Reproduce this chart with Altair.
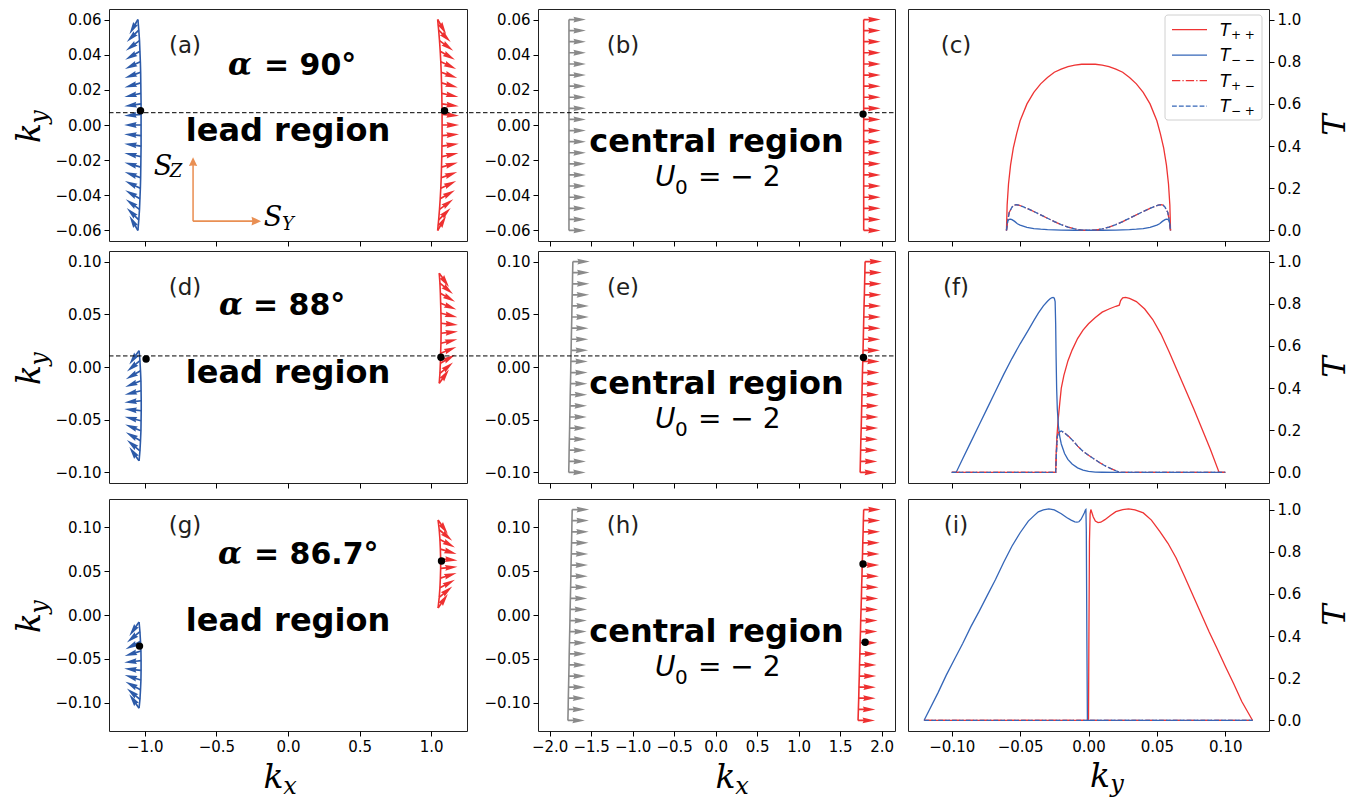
import altair as alt
import pandas as pd

# ================= DATA =================
# ---- (a) lead region, alpha = 90 deg ----
a_ky = [0.060, 0.054, 0.048, 0.042, 0.036, 0.030, 0.024, 0.018, 0.012, 0.006, 0.000,
        -0.006, -0.012, -0.018, -0.024, -0.030, -0.036, -0.042, -0.048, -0.054, -0.060]
a_blue_kx = [-1.048, -1.042, -1.037, -1.034, -1.031, -1.029, -1.028, -1.027, -1.026, -1.026, -1.026,
             -1.026, -1.026, -1.027, -1.028, -1.029, -1.031, -1.034, -1.037, -1.042, -1.048]
a_blue_ang = [120, 135, 144, 150, 155, 160, 164, 168, 172, 176, 180,
              184, 188, 192, 196, 200, 205, 210, 216, 225, 240]
a_red_kx = [1.045, 1.052, 1.058, 1.063, 1.067, 1.070, 1.072, 1.074, 1.075, 1.076, 1.076,
            1.076, 1.075, 1.074, 1.072, 1.070, 1.067, 1.063, 1.058, 1.052, 1.045]
a_red_ang = [60, 45, 36, 30, 25, 20, 16, 12, 8, 4, 0,
             356, 352, 348, 344, 340, 335, 330, 324, 315, 300]
a_dot_kx = [-1.030, 1.093]
a_dot_ky = [0.0081, 0.0081]
row1_dash_ky = [0.007]
s_axis_kx = [-0.663]
s_axis_ky = [-0.0547]

# ---- (b) central region, row 1 ----
b_ky = [0.0600, 0.0537, 0.0474, 0.0411, 0.0347, 0.0284, 0.0221, 0.0158, 0.0095, 0.0032,
        -0.0032, -0.0095, -0.0158, -0.0221, -0.0284, -0.0347, -0.0411, -0.0474, -0.0537, -0.0600]
b_gray_kx = [-1.767] * 20
b_red_kx = [1.783] * 20
b_dot_kx = [1.775]
b_dot_ky = [0.0062]

# ---- (d) lead region, alpha = 88 deg ----
d_blue_ky = [0.0155, 0.0060, -0.0035, -0.0130, -0.0225, -0.0320, -0.0415, -0.0510, -0.0605, -0.0700, -0.0795, -0.0890]
d_blue_kx = [-1.040, -1.034, -1.030, -1.027, -1.026, -1.025, -1.025, -1.026, -1.027, -1.030, -1.034, -1.040]
d_blue_ang = [125, 140, 150, 158, 166, 174, 186, 194, 202, 210, 220, 235]
d_red_ky = [0.0890, 0.0795, 0.0700, 0.0605, 0.0510, 0.0415, 0.0320, 0.0225, 0.0130, 0.0035, -0.0060, -0.0155]
d_red_kx = [1.056, 1.061, 1.064, 1.066, 1.068, 1.069, 1.069, 1.068, 1.066, 1.064, 1.061, 1.056]
d_red_ang = [55, 40, 30, 22, 14, 6, 354, 346, 338, 330, 320, 305]
d_dot_kx = [-0.991, 1.068]
d_dot_ky = [0.0076, 0.0092]
row2_dash_ky = [0.0105]

# ---- (e) central region, row 2 ----
e_ky = [0.1000, 0.0895, 0.0789, 0.0684, 0.0579, 0.0474, 0.0368, 0.0263, 0.0158, 0.0053,
        -0.0053, -0.0158, -0.0263, -0.0368, -0.0474, -0.0579, -0.0684, -0.0789, -0.0895, -0.1000]
e_gray_kx = [-1.720, -1.723, -1.725, -1.728, -1.731, -1.733, -1.736, -1.739, -1.741, -1.744,
             -1.746, -1.749, -1.752, -1.754, -1.757, -1.759, -1.762, -1.765, -1.767, -1.770]
e_red_kx = [1.800, 1.797, 1.794, 1.791, 1.787, 1.784, 1.781, 1.778, 1.775, 1.772,
            1.768, 1.765, 1.762, 1.759, 1.756, 1.753, 1.749, 1.746, 1.743, 1.740]
e_dot_kx = [1.780]
e_dot_ky = [0.0090]

# ---- (g) lead region, alpha = 86.7 deg ----
g_blue_ky = [-0.008, -0.019, -0.030, -0.041, -0.052, -0.063, -0.074, -0.085, -0.096, -0.106]
g_blue_kx = [-1.040, -1.034, -1.030, -1.027, -1.026, -1.026, -1.027, -1.030, -1.034, -1.040]
g_blue_ang = [125, 140, 152, 163, 174, 186, 197, 208, 220, 235]
g_red_ky = [0.108, 0.097, 0.086, 0.075, 0.064, 0.053, 0.042, 0.031, 0.020, 0.008]
g_red_kx = [1.048, 1.056, 1.061, 1.064, 1.066, 1.066, 1.064, 1.061, 1.056, 1.048]
g_red_ang = [55, 40, 28, 17, 6, 354, 343, 332, 320, 305]
g_dot_kx = [-1.037, 1.072]
g_dot_ky = [-0.0354, 0.0614]

# ---- (h) central region, row 3 ----
h_ky = [0.1200, 0.1074, 0.0947, 0.0821, 0.0695, 0.0568, 0.0442, 0.0316, 0.0189, 0.0063,
        -0.0063, -0.0189, -0.0316, -0.0442, -0.0568, -0.0695, -0.0821, -0.0947, -0.1074, -0.1200]
h_gray_kx = [-1.728, -1.731, -1.733, -1.736, -1.739, -1.742, -1.744, -1.747, -1.750, -1.753,
             -1.755, -1.758, -1.761, -1.764, -1.766, -1.769, -1.772, -1.775, -1.777, -1.780]
h_red_kx = [1.783, 1.779, 1.776, 1.772, 1.769, 1.765, 1.762, 1.758, 1.755, 1.751,
            1.747, 1.744, 1.740, 1.737, 1.733, 1.730, 1.726, 1.723, 1.719, 1.715]
h_dot_kx = [1.775, 1.800]
h_dot_ky = [0.058, -0.031]

# ---- (c) transmission, alpha = 90 ----
c_pp_ky = [-0.0600, -0.0595, -0.0585, -0.0570, -0.0550, -0.0525, -0.0500, -0.0450, -0.0400, -0.0350, -0.0300,
           -0.0250, -0.0200, -0.0150, -0.0100, -0.0050, 0.0000, 0.0050, 0.0100, 0.0150, 0.0200, 0.0250,
           0.0300, 0.0350, 0.0400, 0.0450, 0.0500, 0.0525, 0.0550, 0.0570, 0.0585, 0.0595, 0.0600]
c_pp_T = [0.0, 0.12, 0.22, 0.31, 0.39, 0.46, 0.52, 0.60, 0.655, 0.695, 0.725,
          0.75, 0.765, 0.777, 0.784, 0.788, 0.789, 0.788, 0.784, 0.777, 0.765, 0.75,
          0.725, 0.695, 0.655, 0.60, 0.52, 0.46, 0.39, 0.31, 0.22, 0.12, 0.0]
c_mm_ky = [-0.0600, -0.0595, -0.0590, -0.0580, -0.0570, -0.0560, -0.0540, -0.0520, -0.0500, -0.0450, -0.0400,
           -0.0350, -0.0300, -0.0200, -0.0100, 0.0000, 0.0100, 0.0200, 0.0300, 0.0350, 0.0400, 0.0450,
           0.0500, 0.0520, 0.0540, 0.0560, 0.0570, 0.0580, 0.0590, 0.0595, 0.0600]
c_mm_T = [0.0, 0.03, 0.045, 0.053, 0.054, 0.051, 0.043, 0.032, 0.025, 0.015, 0.009,
          0.006, 0.004, 0.002, 0.001, 0.001, 0.001, 0.002, 0.004, 0.006, 0.009, 0.015,
          0.025, 0.032, 0.043, 0.051, 0.054, 0.053, 0.045, 0.03, 0.0]
c_x_ky = [-0.0600, -0.0590, -0.0580, -0.0560, -0.0545, -0.0530, -0.0510, -0.0480, -0.0450, -0.0400, -0.0350,
          -0.0300, -0.0250, -0.0200, -0.0150, -0.0100, -0.0050, 0.0000, 0.0050, 0.0100, 0.0150, 0.0200,
          0.0250, 0.0300, 0.0350, 0.0400, 0.0450, 0.0480, 0.0510, 0.0530, 0.0545, 0.0560, 0.0580, 0.0590, 0.0600]
c_pm_T = [0.0, 0.05, 0.085, 0.11, 0.12, 0.122, 0.12, 0.113, 0.105, 0.09, 0.074,
          0.058, 0.042, 0.028, 0.016, 0.007, 0.002, 0.0, 0.002, 0.007, 0.016, 0.028,
          0.042, 0.058, 0.074, 0.09, 0.105, 0.113, 0.12, 0.122, 0.12, 0.11, 0.085, 0.05, 0.0]
c_mp_T = [0.0, 0.05, 0.085, 0.11, 0.12, 0.122, 0.12, 0.113, 0.105, 0.09, 0.074,
          0.058, 0.042, 0.028, 0.016, 0.007, 0.002, 0.0, 0.002, 0.007, 0.016, 0.028,
          0.042, 0.058, 0.074, 0.09, 0.105, 0.113, 0.12, 0.122, 0.12, 0.11, 0.085, 0.05, 0.0]

# ---- (f) transmission, alpha = 88 ----
f_pp_ky = [-0.1000, -0.0240, -0.0236, -0.0230, -0.0222, -0.0210, -0.0199, -0.0180, -0.0150, -0.0120, -0.0080,
           -0.0040, 0.0000, 0.0050, 0.0100, 0.0150, 0.0200, 0.0225, 0.0235, 0.0250, 0.0271, 0.0300,
           0.0350, 0.0411, 0.0470, 0.0531, 0.0591, 0.0651, 0.0711, 0.0771, 0.0831, 0.0891, 0.0955, 0.1000]
f_pp_T = [0.0, 0.0, 0.10, 0.18, 0.25, 0.33, 0.40, 0.46, 0.53, 0.58, 0.635,
          0.675, 0.705, 0.735, 0.76, 0.775, 0.788, 0.793, 0.815, 0.828, 0.83, 0.825,
          0.81, 0.775, 0.725, 0.655, 0.57, 0.48, 0.39, 0.30, 0.205, 0.11, 0.0, 0.0]
f_mm_ky = [-0.1000, -0.0968, -0.0920, -0.0860, -0.0800, -0.0740, -0.0680, -0.0620, -0.0560, -0.0500, -0.0440,
           -0.0400, -0.0367, -0.0330, -0.0300, -0.0283, -0.0270, -0.0259, -0.0250, -0.0244, -0.0240, -0.0237,
           -0.0233, -0.0228, -0.0220, -0.0210, -0.0199, -0.0175, -0.0151, -0.0120, -0.0080, -0.0040, 0.0000,
           0.0050, 0.0100, 0.0200, 0.1000]
f_mm_T = [0.0, 0.0, 0.065, 0.145, 0.225, 0.305, 0.385, 0.465, 0.54, 0.61, 0.675,
          0.72, 0.755, 0.79, 0.812, 0.822, 0.828, 0.83, 0.826, 0.81, 0.70, 0.55,
          0.40, 0.30, 0.22, 0.17, 0.135, 0.09, 0.062, 0.04, 0.022, 0.011, 0.005,
          0.002, 0.001, 0.0, 0.0]
f_x_ky = [-0.1000, -0.0240, -0.0234, -0.0228, -0.0220, -0.0199, -0.0170, -0.0140, -0.0110, -0.0079,
          -0.0040, 0.0000, 0.0041, 0.0080, 0.0120, 0.0161, 0.0200, 0.0233, 0.1000]
f_pm_T = [0.0, 0.0, 0.10, 0.17, 0.19, 0.197, 0.185, 0.168, 0.148, 0.125,
          0.10, 0.082, 0.064, 0.047, 0.032, 0.019, 0.008, 0.0, 0.0]
f_mp_T = [0.0, 0.0, 0.10, 0.17, 0.19, 0.197, 0.185, 0.168, 0.148, 0.125,
          0.10, 0.082, 0.064, 0.047, 0.032, 0.019, 0.008, 0.0, 0.0]

# ---- (i) transmission, alpha = 86.7 ----
i_mm_ky = [-0.1203, -0.1100, -0.1040, -0.0980, -0.0920, -0.0860, -0.0800, -0.0740, -0.0680, -0.0620, -0.0560,
           -0.0500, -0.0440, -0.0400, -0.0367, -0.0330, -0.0290, -0.0250, -0.0199, -0.0160, -0.0127, -0.0100,
           -0.0084, -0.0070, -0.0055, -0.0040, -0.0031, -0.0022, -0.0019, -0.0016, -0.0012, -0.0008, 0.1200]
i_mm_T = [0.0, 0.132, 0.215, 0.29, 0.365, 0.445, 0.517, 0.593, 0.668, 0.75, 0.826,
          0.89, 0.945, 0.97, 0.989, 0.998, 1.003, 0.998, 0.98, 0.962, 0.95, 0.942,
          0.94, 0.942, 0.953, 0.972, 0.984, 0.998, 1.0, 0.9, 0.4, 0.0, 0.0]
i_pp_ky = [-0.1200, 0.0000, 0.0003, 0.0007, 0.0012, 0.0017, 0.0025, 0.0035, 0.0050, 0.0070, 0.0090,
           0.0120, 0.0160, 0.0200, 0.0250, 0.0293, 0.0340, 0.0401, 0.0460, 0.0521, 0.0581, 0.0641,
           0.0701, 0.0761, 0.0821, 0.0881, 0.0941, 0.1001, 0.1061, 0.1121, 0.1200]
i_pp_T = [0.0, 0.0, 0.4, 0.85, 0.98, 1.0, 0.985, 0.965, 0.945, 0.938, 0.94,
          0.952, 0.972, 0.99, 1.0, 1.003, 0.998, 0.984, 0.95, 0.897, 0.84, 0.77,
          0.685, 0.597, 0.51, 0.422, 0.34, 0.256, 0.175, 0.09, 0.0]
i_x_ky = [-0.1200, 0.1200]
i_pm_T = [0.0, 0.0]
i_mp_T = [0.0, 0.0]

# tick labels
lead_xticks = [-1.0, -0.5, 0.0, 0.5, 1.0]
cent_xticks = [-2.0, -1.5, -1.0, -0.5, 0.0, 0.5, 1.0, 1.5, 2.0]
t_xticks = [-0.10, -0.05, 0.00, 0.05, 0.10]
t_yticks = [0.0, 0.2, 0.4, 0.6, 0.8, 1.0]
row1_yticks = [-0.06, -0.04, -0.02, 0.00, 0.02, 0.04, 0.06]
row23_yticks = [-0.10, -0.05, 0.00, 0.05, 0.10]

# ================= STYLE =================
FONT = "DejaVu Sans"
SERIF = "DejaVu Serif"
RED = "#ee3030"
BLUE = "#2c5aa8"
GRAY = "#8a8a8a"
LRED = "#ee3333"
LBLUE = "#3566b8"
ORANGE = "#e8894a"
ARROW = "M0,-0.05 L0.32,-0.05 L0.26,-0.17 L1,0 L0.26,0.17 L0.32,0.05 L0,0.05 Z"
ARROW_SIZE = 4 * 17 * 17
LONG_ARROW = "M0,-0.012 L0.87,-0.012 L0.86,-0.065 L1,0 L0.86,0.065 L0.87,0.012 L0,0.012 Z"
W_L, W_M, W_R, H = 358, 357, 361, 232
DASHDOT = [8.3, 2.1, 1.3, 2.1]
DASHED = [4.8, 2.1]

AX = dict(grid=False, domain=False, tickSize=5, tickColor="black", tickWidth=1,
          labelFont=FONT, labelFontSize=15, labelColor="black", labelPadding=3,
          labelOverlap=False, labelFlush=False, title=None)

ONE = alt.Data(values=[{"a": 1}])


def X(field, dom, ticks, fmt, labels):
    return alt.X(f"{field}:Q", scale=alt.Scale(domain=dom, nice=False, zero=False),
                 axis=alt.Axis(values=ticks, format=fmt, labels=labels, **AX))


def Y(field, dom, ticks, fmt, orient="left"):
    return alt.Y(f"{field}:Q", scale=alt.Scale(domain=dom, nice=False, zero=False),
                 axis=alt.Axis(values=ticks, format=fmt, orient=orient, **AX))


def txt(text, x, y, size, font=FONT, weight="normal", style="normal", align="center",
        baseline="alphabetic", angle=0, color="black"):
    return alt.Chart(ONE).mark_text(text=text, font=font, fontSize=size, fontWeight=weight,
                                    fontStyle=style, align=align, baseline=baseline,
                                    angle=angle, color=color).encode(
        x=alt.value(x), y=alt.value(y))


def arrows(kx, ky, ang, color, xe, ye):
    df = pd.DataFrame({"kx": kx, "ky": ky, "ang": ang})
    return alt.Chart(df).mark_point(shape=ARROW, filled=True, size=ARROW_SIZE, color=color,
                                    opacity=1, strokeWidth=0).encode(
        x=xe, y=ye, angle=alt.Angle("ang:Q", scale=None))


def curve(kx, ky, color, xe, ye):
    df = pd.DataFrame({"kx": kx, "ky": ky})
    return alt.Chart(df).mark_line(color=color, strokeWidth=1.6).encode(
        x=xe, y=ye, order=alt.Order("ky:Q"))


def dots(kx, ky, xe, ye):
    df = pd.DataFrame({"kx": kx, "ky": ky})
    return alt.Chart(df).mark_circle(size=55, color="black", opacity=1).encode(x=xe, y=ye)


def dash_rule(ky, ye, x0, x1, visible=True):
    df = pd.DataFrame({"ky": ky})
    kw = dict(color="black", strokeDash=[4.5, 2.5], strokeWidth=1)
    if not visible:
        kw["opacity"] = 0
    return alt.Chart(df).mark_rule(**kw).encode(x=alt.value(x0), x2=alt.value(x1), y=ye)


def tline(ky, T, color, xe, ye, dash=None):
    df = pd.DataFrame({"ky": ky, "T": T, "i": list(range(len(ky)))})
    kw = dict(color=color, strokeWidth=1.3)
    if dash is not None:
        kw["strokeDash"] = dash
    return alt.Chart(df).mark_line(**kw).encode(x=xe, y=ye, order=alt.Order("i:Q"))


def ky_title():
    return [txt("k", -69, H / 2 + 8, 33, font=SERIF, style="italic", angle=270),
            txt("y", -62, H / 2 - 8, 24, font=SERIF, style="italic", angle=270)]


def t_title():
    return [txt("T", W_R + 76, H / 2, 32, font=SERIF, style="italic", angle=270)]


def alpha_text(val, xa, xt, yb):
    return [txt("α", xa, yb, 31, font=SERIF, weight="bold", style="italic"),
            txt("= " + val, xt, yb, 30, weight="bold", align="left")]


def central_text():
    return [txt("central region", W_M / 2, 143, 32, weight="bold"),
            txt("U", 117, 177, 28, style="italic", align="left"),
            txt("0", 137, 185, 20, align="left"),
            txt("= − 2", 160, 177, 28, align="left")]


ROW_YDOM = [[-0.066, 0.066], [-0.11, 0.11], [-0.132, 0.132]]
LEAD_XDOM = [-1.25, 1.25]
CENT_XDOM = [-2.14, 2.16]
T_XDOM = [-0.132, 0.132]
T_YDOM = [-0.05, 1.05]


def lead_panel(r, blue, red, dts, dash, label, label_y, alpha, show_x, extra=()):
    yt = row1_yticks if r == 0 else row23_yticks
    xe = X("kx", LEAD_XDOM, lead_xticks, ".1f", show_x)
    ye = Y("ky", ROW_YDOM[r], yt, ".2f")
    layers = [curve(blue[0], blue[1], BLUE, xe, ye), arrows(blue[0], blue[1], blue[2], BLUE, xe, ye),
              curve(red[0], red[1], RED, xe, ye), arrows(red[0], red[1], red[2], RED, xe, ye)]
    if dash is not None:
        layers.append(dash_rule(dash, ye, 0, W_L))
    layers.append(dots(dts[0], dts[1], xe, ye))
    layers += list(extra)
    layers.append(txt(label, 76, label_y, 23, baseline="middle", color="#231f20"))
    layers += alpha_text(*alpha)
    layers.append(txt("lead region", W_L / 2, 132, 32, weight="bold"))
    layers += ky_title()
    if show_x:
        layers += [txt("k", 164.5, H + 57, 33, font=SERIF, style="italic"),
                   txt("x", 181, H + 63, 24, font=SERIF, style="italic")]
    return alt.layer(*layers).properties(width=W_L, height=H)


def cent_panel(r, ky, gray_kx, red_kx, dts, dash, label, label_y, show_x):
    yt = row1_yticks if r == 0 else row23_yticks
    xe = X("kx", CENT_XDOM, cent_xticks, ".1f", show_x)
    ye = Y("ky", ROW_YDOM[r], yt, ".2f")
    zeros = [0] * len(ky)
    layers = [curve(gray_kx, ky, GRAY, xe, ye), arrows(gray_kx, ky, zeros, GRAY, xe, ye),
              curve(red_kx, ky, RED, xe, ye), arrows(red_kx, ky, zeros, RED, xe, ye)]
    if dash is not None:
        layers.append(dash_rule(dash, ye, -69, W_M))
    else:
        # invisible spacer keeping the same gap to the left panel
        layers.append(dash_rule([0.0], ye, -69, 0, visible=False))
    layers.append(dots(dts[0], dts[1], xe, ye))
    layers.append(txt(label, 85, label_y, 23, baseline="middle", color="#231f20"))
    layers += central_text()
    if show_x:
        layers += [txt("k", 187.5, H + 57, 33, font=SERIF, style="italic"),
                   txt("x", 204, H + 63, 24, font=SERIF, style="italic")]
    return alt.layer(*layers).properties(width=W_M, height=H)


def t_panel(series, label, label_y, show_x, legend=False):
    xe = X("ky", T_XDOM, t_xticks, ".2f", show_x)
    ye = Y("T", T_YDOM, t_yticks, ".1f", orient="right")
    (pp_ky, pp_T), (mm_ky, mm_T), (x_ky, pm_T, mp_T) = series
    layers = [tline(pp_ky, pp_T, LRED, xe, ye),
              tline(mm_ky, mm_T, LBLUE, xe, ye),
              tline(x_ky, pm_T, LRED, xe, ye, DASHDOT),
              tline(x_ky, mp_T, LBLUE, xe, ye, DASHED)]
    layers.append(txt(label, 48, label_y, 23, baseline="middle", color="#231f20"))
    layers += t_title()
    if legend:
        layers.append(alt.Chart(ONE).mark_rect(fill="white", stroke="#cccccc", strokeWidth=1,
                                               cornerRadius=3, opacity=0.9).encode(
            x=alt.value(257), x2=alt.value(354), y=alt.value(6), y2=alt.value(111)))
        entries = [("+ +", LRED, None), ("− −", LBLUE, None), ("+ −", LRED, DASHDOT), ("− +", LBLUE, DASHED)]
        for n, (sub, col, dash) in enumerate(entries):
            yy = 20.7 + 25.5 * n
            kw = dict(color=col, strokeWidth=1.3)
            if dash is not None:
                kw["strokeDash"] = dash
            layers.append(alt.Chart(ONE).mark_rule(**kw).encode(
                x=alt.value(264), x2=alt.value(299), y=alt.value(yy)))
            layers.append(txt("T", 312, yy + 6, 17, style="italic", align="left"))
            layers.append(txt(sub, 323, yy + 9, 12, align="left"))
    if show_x:
        layers += [txt("k", 192, H + 56, 33, font=SERIF, style="italic"),
                   txt("y", 209, H + 61, 24, font=SERIF, style="italic")]
    return alt.layer(*layers).properties(width=W_R, height=H)


# ---- orange S axes in panel (a) ----
s_df = pd.DataFrame({"kx": s_axis_kx, "ky": s_axis_ky})
xa = X("kx", LEAD_XDOM, lead_xticks, ".1f", False)
ya = Y("ky", ROW_YDOM[0], row1_yticks, ".2f")
s_layers = [
    alt.Chart(s_df).mark_point(shape=LONG_ARROW, filled=True, size=4 * 64 * 64, angle=270,
                               color=ORANGE, opacity=0.95, strokeWidth=0).encode(x=xa, y=ya),
    alt.Chart(s_df).mark_point(shape=LONG_ARROW, filled=True, size=4 * 68 * 68, angle=0,
                               color=ORANGE, opacity=0.95, strokeWidth=0).encode(x=xa, y=ya),
    txt("S", 54, 166, 27, font=SERIF, style="italic"),
    txt("Z", 67, 168, 18, font=SERIF, style="italic"),
    txt("S", 164, 217, 27, font=SERIF, style="italic"),
    txt("Y", 179, 221, 18, font=SERIF, style="italic"),
]

pa = lead_panel(0, (a_blue_kx, a_ky, a_blue_ang), (a_red_kx, a_ky, a_red_ang), (a_dot_kx, a_dot_ky),
                row1_dash_ky, "(a)", 37, ("90°", 131, 155, 66), False, s_layers)
pb = cent_panel(0, b_ky, b_gray_kx, b_red_kx, (b_dot_kx, b_dot_ky), row1_dash_ky, "(b)", 37, False)
pc = t_panel(((c_pp_ky, c_pp_T), (c_mm_ky, c_mm_T), (c_x_ky, c_pm_T, c_mp_T)), "(c)", 37, False, legend=True)

pd_ = lead_panel(1, (d_blue_kx, d_blue_ky, d_blue_ang), (d_red_kx, d_red_ky, d_red_ang), (d_dot_kx, d_dot_ky),
                 row2_dash_ky, "(d)", 37, ("88°", 122, 144, 64), False)
pe = cent_panel(1, e_ky, e_gray_kx, e_red_kx, (e_dot_kx, e_dot_ky), row2_dash_ky, "(e)", 37, False)
pf = t_panel(((f_pp_ky, f_pp_T), (f_mm_ky, f_mm_T), (f_x_ky, f_pm_T, f_mp_T)), "(f)", 37, False)

pg = lead_panel(2, (g_blue_kx, g_blue_ky, g_blue_ang), (g_red_kx, g_red_ky, g_red_ang), (g_dot_kx, g_dot_ky),
                None, "(g)", 27, ("86.7°", 121, 145, 65), True)
ph = cent_panel(2, h_ky, h_gray_kx, h_red_kx, (h_dot_kx, h_dot_ky), None, "(h)", 27, True)
pi = t_panel(((i_pp_ky, i_pp_T), (i_mm_ky, i_mm_T), (i_x_ky, i_pm_T, i_mp_T)), "(i)", 27, True)


def row(l, m, r):
    return alt.hconcat(alt.hconcat(l, m, spacing=0), r, spacing=11)


chart = alt.vconcat(
    alt.vconcat(row(pa, pb, pc), row(pd_, pe, pf), spacing=3),
    row(pg, ph, pi), spacing=9
).properties(padding={"left": 5, "top": 0, "right": 5, "bottom": 5}).configure_view(
    stroke="#222222", strokeWidth=1)

chart.save("out.html", embed_options={"renderer": "svg", "actions": False})
